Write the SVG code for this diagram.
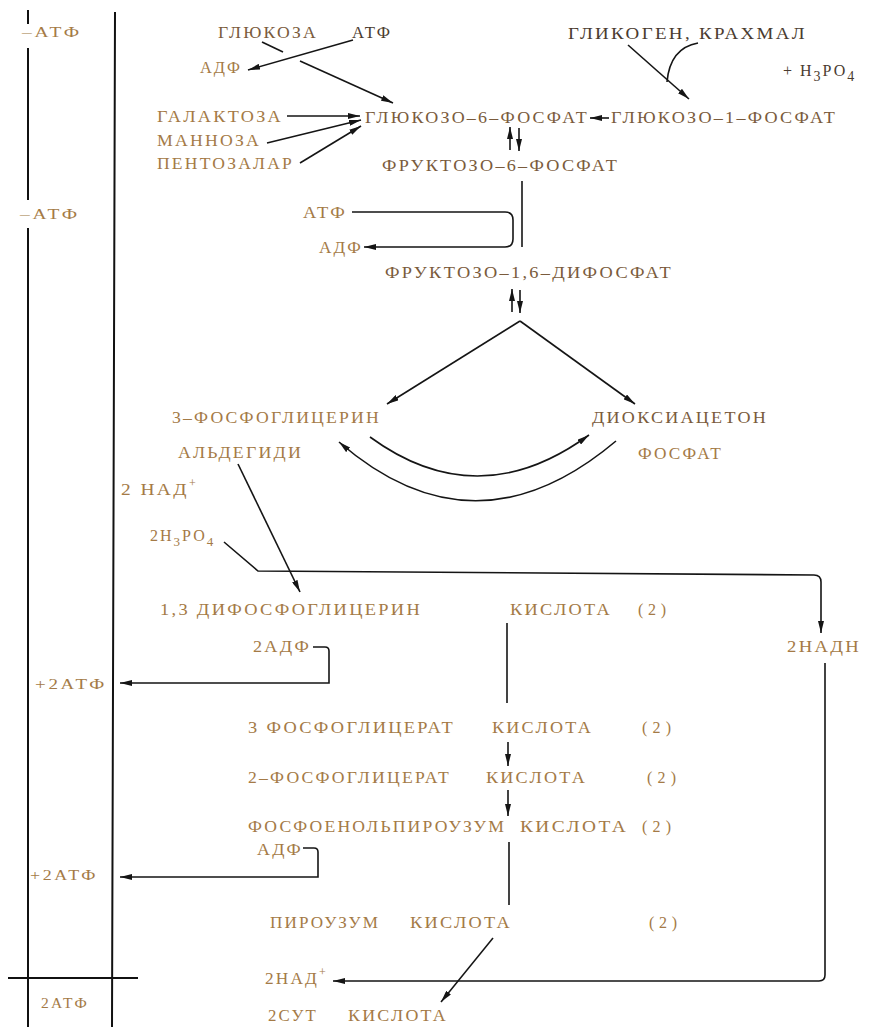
<svg xmlns="http://www.w3.org/2000/svg" width="871" height="1027" viewBox="0 0 871 1027">
  <style>
    text { font-family: "Liberation Serif", "DejaVu Serif", serif; font-size: 16px; fill: #a47a46; letter-spacing: 2px; }
    .d { fill: #4a3b2f; }
    .m { fill: #7a5b3c; }
    .s { font-size: 14px; }
    .ln { fill: none; stroke: #151515; stroke-width: 1.6; }
    .ar { fill: none; stroke: #151515; stroke-width: 1.6; marker-end: url(#ah); }
    .rule { fill: none; stroke: #111; stroke-width: 2; }
  </style>
  <defs>
    <marker id="ah" viewBox="0 0 12 6" refX="12" refY="3" markerWidth="12" markerHeight="6" orient="auto" markerUnits="userSpaceOnUse">
      <path d="M0,0 L12,3 L0,6 z" fill="#151515"/>
    </marker>
  </defs>
  <rect width="871" height="1027" fill="#ffffff"/>

  <!-- ATP balance column -->
  <g id="balance">
    <path class="rule" d="M28,10 V24 M28,48 V200 M28,228 V1027 M115,12 L112,1027 M8,978 H138"/>
    <text class="s" x="22" y="37" textLength="60" lengthAdjust="spacingAndGlyphs">–АТФ</text>
    <text class="s" x="20" y="219" textLength="60" lengthAdjust="spacingAndGlyphs">–АТФ</text>
    <text class="s" x="35" y="689" textLength="72" lengthAdjust="spacingAndGlyphs">+2АТФ</text>
    <text class="s" x="30" y="880" textLength="68" lengthAdjust="spacingAndGlyphs">+2АТФ</text>
    <text class="s" x="41" y="1008" textLength="48" lengthAdjust="spacingAndGlyphs">2АТФ</text>
  </g>

  <!-- nodes -->
  <g id="glucose"><text class="m" x="218" y="38" textLength="100" lengthAdjust="spacingAndGlyphs">ГЛЮКОЗА</text></g>
  <g id="atp-1"><text class="d" x="352" y="38" textLength="40" lengthAdjust="spacingAndGlyphs">АТФ</text></g>
  <g id="adp-1"><text x="200" y="73" textLength="42" lengthAdjust="spacingAndGlyphs">АДФ</text></g>
  <g id="galactose"><text x="157" y="122" textLength="126" lengthAdjust="spacingAndGlyphs">ГАЛАКТОЗА</text></g>
  <g id="mannose"><text x="157" y="146" textLength="104" lengthAdjust="spacingAndGlyphs">МАННОЗА</text></g>
  <g id="pentoses"><text x="157" y="169" textLength="137" lengthAdjust="spacingAndGlyphs">ПЕНТОЗАЛАР</text></g>
  <g id="g6p"><text class="m" x="365" y="123" textLength="224" lengthAdjust="spacingAndGlyphs">ГЛЮКОЗО–6–ФОСФАТ</text></g>
  <g id="g1p"><text class="m" x="611" y="123" textLength="226" lengthAdjust="spacingAndGlyphs">ГЛЮКОЗО–1–ФОСФАТ</text></g>
  <g id="glycogen"><text class="d" x="568" y="39" textLength="239" lengthAdjust="spacingAndGlyphs">ГЛИКОГЕН, КРАХМАЛ</text></g>
  <g id="h3po4"><text class="d" x="783" y="76" font-size="19" letter-spacing="2">+ Н<tspan dy="5" font-size="14">3</tspan><tspan dy="-5">РО</tspan><tspan dy="5" font-size="14">4</tspan></text></g>
  <g id="f6p"><text class="m" x="382" y="171" textLength="237" lengthAdjust="spacingAndGlyphs">ФРУКТОЗО–6–ФОСФАТ</text></g>
  <g id="atp-2"><text x="303" y="218" textLength="44" lengthAdjust="spacingAndGlyphs">АТФ</text></g>
  <g id="adp-2"><text x="319" y="253" textLength="44" lengthAdjust="spacingAndGlyphs">АДФ</text></g>
  <g id="f16bp"><text class="m" x="385" y="278" textLength="288" lengthAdjust="spacingAndGlyphs">ФРУКТОЗО–1,6–ДИФОСФАТ</text></g>
  <g id="gap">
    <text x="172" y="423" textLength="209" lengthAdjust="spacingAndGlyphs">3–ФОСФОГЛИЦЕРИН</text>
    <text x="178" y="458" textLength="125" lengthAdjust="spacingAndGlyphs">АЛЬДЕГИДИ</text>
  </g>
  <g id="dhap">
    <text class="m" x="592" y="423" textLength="176" lengthAdjust="spacingAndGlyphs">ДИОКСИАЦЕТОН</text>
    <text x="638" y="459" textLength="85" lengthAdjust="spacingAndGlyphs">ФОСФАТ</text>
  </g>
  <g id="nad-1"><text x="121" y="495"><tspan textLength="68" lengthAdjust="spacingAndGlyphs">2  НАД</tspan><tspan dy="-8" font-size="12">+</tspan></text></g>
  <g id="pi"><text x="150" y="541" font-size="17" letter-spacing="3">2Н<tspan dy="5" font-size="13">3</tspan><tspan dy="-5">РО</tspan><tspan dy="5" font-size="13">4</tspan></text></g>
  <g id="bpg">
    <text x="160" y="615" textLength="262" lengthAdjust="spacingAndGlyphs">1,3 ДИФОСФОГЛИЦЕРИН</text>
    <text x="510" y="615" textLength="102" lengthAdjust="spacingAndGlyphs">КИСЛОТА</text>
    <text x="638" y="615" textLength="30" lengthAdjust="spacing">(2)</text>
  </g>
  <g id="nadh"><text x="787" y="652" textLength="74" lengthAdjust="spacingAndGlyphs">2НАДН</text></g>
  <g id="adp-3"><text x="253" y="652" textLength="58" lengthAdjust="spacingAndGlyphs">2АДФ</text></g>
  <g id="pg3">
    <text x="248" y="733" textLength="207" lengthAdjust="spacingAndGlyphs">3 ФОСФОГЛИЦЕРАТ</text>
    <text x="492" y="733" textLength="101" lengthAdjust="spacingAndGlyphs">КИСЛОТА</text>
    <text x="642" y="733" textLength="31" lengthAdjust="spacing">(2)</text>
  </g>
  <g id="pg2">
    <text x="248" y="783" textLength="203" lengthAdjust="spacingAndGlyphs">2–ФОСФОГЛИЦЕРАТ</text>
    <text x="486" y="783" textLength="101" lengthAdjust="spacingAndGlyphs">КИСЛОТА</text>
    <text x="647" y="783" textLength="31" lengthAdjust="spacing">(2)</text>
  </g>
  <g id="pep">
    <text x="248" y="832" textLength="258" lengthAdjust="spacingAndGlyphs">ФОСФОЕНОЛЬПИРОУЗУМ</text>
    <text x="520" y="832" textLength="108" lengthAdjust="spacingAndGlyphs">КИСЛОТА</text>
    <text x="642" y="832" textLength="31" lengthAdjust="spacing">(2)</text>
  </g>
  <g id="adp-4"><text x="257" y="855" textLength="46" lengthAdjust="spacingAndGlyphs">АДФ</text></g>
  <g id="pyruvate">
    <text x="270" y="928" textLength="110" lengthAdjust="spacingAndGlyphs">ПИРОУЗУМ</text>
    <text x="410" y="928" textLength="102" lengthAdjust="spacingAndGlyphs">КИСЛОТА</text>
    <text x="649" y="928" textLength="30" lengthAdjust="spacing">(2)</text>
  </g>
  <g id="nad-2"><text x="265" y="984"><tspan textLength="54" lengthAdjust="spacingAndGlyphs">2НАД</tspan><tspan dy="-8" font-size="12">+</tspan></text></g>
  <g id="lactate">
    <text x="268" y="1021" textLength="50" lengthAdjust="spacingAndGlyphs">2СУТ</text>
    <text x="348" y="1021" textLength="100" lengthAdjust="spacingAndGlyphs">КИСЛОТА</text>
  </g>

  <!-- connectors -->
  <g id="connectors">
    <path class="ln" d="M262,42 L283,52"/>
    <path class="ar" d="M300,61 L393,103"/>
    <path class="ar" d="M353,40 L248,70"/>
    <path class="ar" d="M287,116 L360,116"/>
    <path class="ar" d="M267,143 L361,120"/>
    <path class="ar" d="M300,163 L361,126"/>
    <path class="ar" d="M628,45 L689,99"/>
    <path class="ln" d="M698,43 Q670,48 667,82"/>
    <path class="ar" d="M609,118 L590,118"/>
    <path class="ar" d="M510,150 V127"/>
    <path class="ar" d="M519,128 V151"/>
    <path class="ln" d="M522,181 V247"/>
    <path class="ar" d="M352,212 H505 Q513,212 513,220 V239 Q513,247 505,247 H364"/>
    <path class="ar" d="M512,312 V289"/>
    <path class="ar" d="M520,290 V313"/>
    <path class="ar" d="M520,321 L387,404"/>
    <path class="ar" d="M520,321 L635,404"/>
    <path class="ar" d="M370,437 Q478,516 589,435"/>
    <path class="ar" d="M616,441 Q475,560 339,442"/>
    <path class="ar" d="M238,464 L300,592"/>
    <path class="ar" d="M224,542 L258,571 L814,575 Q821,575 821,582 V633"/>
    <path class="ln" d="M507,623 V703"/>
    <path class="ar" d="M313,647 H325 Q329,647 329,651 V683 H120"/>
    <path class="ar" d="M508,742 V766"/>
    <path class="ar" d="M508,790 V816"/>
    <path class="ln" d="M509,842 V905"/>
    <path class="ar" d="M303,848 H314 Q318,848 318,852 V877 H120"/>
    <path class="ar" d="M493,938 L441,1002"/>
    <path class="ar" d="M825,663 V975 Q825,981 819,981 H333"/>
  </g>
</svg>
